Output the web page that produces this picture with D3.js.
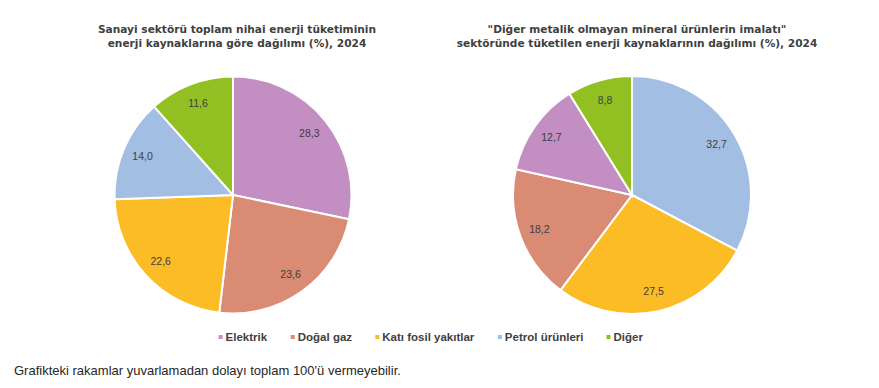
<!DOCTYPE html>
<html>
<head>
<meta charset="utf-8">
<script src="https://cdn.jsdelivr.net/npm/d3@7"></script>
<style>
  body { margin: 0; background: #fff; }
  svg { display: block; font-family: "Liberation Sans", Arial, sans-serif; }
</style>
</head>
<body>
<svg id="chart" width="879" height="388"></svg>
<script>
// categories and colours (legend order)
const categories = ["Elektrik", "Doğal gaz", "Katı fosil yakıtlar", "Petrol ürünleri", "Diğer"];
const colors = ["#C38EC2", "#D98B73", "#FBBC26", "#A3BEE3", "#92C022"];

// left pie: whole industry, clockwise from 12 o'clock
const leftCats = ["Elektrik", "Doğal gaz", "Katı fosil yakıtlar", "Petrol ürünleri", "Diğer"];
const leftValues = [28.3, 23.6, 22.6, 14.0, 11.6];

// right pie: other non-metallic mineral products
const rightCats = ["Petrol ürünleri", "Katı fosil yakıtlar", "Doğal gaz", "Elektrik", "Diğer"];
const rightValues = [32.7, 27.5, 18.2, 12.7, 8.8];

const leftTitle = ["Sanayi sektörü toplam nihai enerji tüketiminin", "enerji kaynaklarına göre dağılımı (%), 2024"];
const rightTitle = ["\"Diğer metalik olmayan mineral ürünlerin imalatı\"", "sektöründe tüketilen enerji kaynaklarının dağılımı (%), 2024"];
const footnote = "Grafikteki rakamlar yuvarlamadan dolayı toplam 100'ü vermeyebilir.";

const svg = d3.select("#chart");
const color = d3.scaleOrdinal().domain(categories).range(colors);
const fmt = v => d3.format(".1f")(v).replace(".", ",");

function drawPie(cx, cy, r, cats, values, title, titleX) {
    const data = cats.map((c, i) => ({ cat: c, value: values[i] }));
    const pie = d3.pie().sort(null).value(d => d.value);
    const arc = d3.arc().innerRadius(0).outerRadius(r);
    const labelArc = d3.arc().innerRadius(r * 0.83).outerRadius(r * 0.83);

    const g = svg.append("g").attr("transform", `translate(${cx},${cy})`);
    const arcs = pie(data);

    g.selectAll(".slice")
        .data(arcs)
        .join("path")
        .attr("class", "slice")
        .attr("d", arc)
        .style("fill", d => color(d.data.cat))
        .style("stroke", "#fff")
        .style("stroke-width", 2);

    g.selectAll(".label")
        .data(arcs)
        .join("text")
        .attr("class", "label")
        .attr("transform", d => `translate(${labelArc.centroid(d)})`)
        .attr("text-anchor", "middle")
        .attr("dy", "0.35em")
        .attr("font-size", 10.5)
        .style("fill", "#404040")
        .text(d => fmt(d.data.value));

    svg.append("text")
        .attr("x", titleX)
        .attr("y", 33)
        .attr("text-anchor", "middle")
        .attr("font-family", "'DejaVu Sans', Verdana, sans-serif")
        .attr("font-size", 10.6)
        .attr("font-weight", "bold")
        .style("fill", "#404040")
        .selectAll("tspan")
        .data(title)
        .join("tspan")
        .attr("x", titleX)
        .attr("dy", (d, i) => i ? 14 : 0)
        .text(d => d);
}

drawPie(233, 195, 118.5, leftCats, leftValues, leftTitle, 237);
drawPie(632, 195, 119, rightCats, rightValues, rightTitle, 637);

// legend
const legend = svg.append("g");
const items = legend.selectAll(".item")
    .data(categories)
    .join("g")
    .attr("class", "item");

items.append("rect")
    .attr("width", 4).attr("height", 4)
    .attr("y", -6)
    .style("fill", d => color(d));

items.append("text")
    .attr("x", 7)
    .attr("font-size", 11.5)
    .attr("font-weight", "bold")
    .style("fill", "#404040")
    .text(d => d);

let xPos = 0;
items.each(function () {
    const w = this.getBBox().width;
    d3.select(this).attr("transform", `translate(${xPos},0)`);
    xPos += w + 23;
});
const legendWidth = xPos - 23;
legend.attr("transform", `translate(${431 - legendWidth / 2},341)`);

svg.append("text")
    .attr("x", 14)
    .attr("y", 375)
    .attr("font-size", 13)
    .style("fill", "#262626")
    .text(footnote);
</script>
</body>
</html>
